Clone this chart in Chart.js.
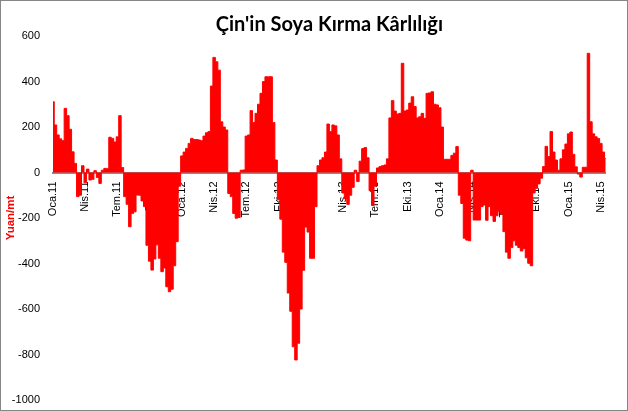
<!DOCTYPE html>
<html>
<head>
<meta charset="utf-8">
<script src="https://cdn.jsdelivr.net/npm/chart.js@4.4.1/dist/chart.umd.min.js"></script>
<style>
    html, body { margin: 0; padding: 0; background: #ffffff; }
    canvas { display: block; }
</style>
</head>
<body>
<canvas id="marginChart" width="628" height="411"></canvas>
<script>
// Quarter tick labels (one every 13 weeks)
const quarterLabels = ['Oca.11', 'Nis.11', 'Tem.11', 'Eki.11', 'Oca.12', 'Nis.12', 'Tem.12', 'Eki.12',
    'Oca.13', 'Nis.13', 'Tem.13', 'Eki.13', 'Oca.14', 'Nis.14', 'Tem.14', 'Eki.14', 'Oca.15', 'Nis.15'];
const weeksPerQuarter = 13;

// Weekly crush margin, Yuan/mt
const margin2011 = [311, 209, 165, 148, 140, 282, 250, 190, 91, 40, -106, -100, 30, -45, 15, -33, -30, 8, -22, -48,
    10, 18, 18, 155, 150, 134, 157, 250, 22, -106, -140, -238, -180, -173, -99, -100, -125, -150, -320, -390,
    -429, -380, -318, -377, -436, -420, -502, -524, -513, -410, -304, -60];
const margin2012 = [73, 90, 106, 128, 150, 145, 145, 143, 140, 160, 175, 180, 380, 506, 487, 450, 223, 200, 187, -92,
    -106, -180, -201, -198, 10, 11, 160, 165, 272, 220, 260, 300, 348, 400, 421, 421, 421, 220, 55, -120,
    -205, -350, -395, -530, -610, -766, -824, -751, -600, -430, -240, -262];
const margin2013 = [-377, -377, -150, 30, 55, 65, 90, 213, 180, 209, 205, 165, 60, -90, -115, -140, -100, -65, 10, -40,
    50, 105, 110, 65, -80, -145, -60, 20, 26, 30, 33, 60, 240, 316, 270, 257, 260, 480, 270, 275,
    305, 333, 290, 240, 245, 260, 238, 348, 350, 355, 300, 297];
const margin2014 = [285, 200, 58, 58, 58, 75, 85, 114, -100, -136, -289, -297, -300, 10, -209, -209, -209, -150, -143, -210,
    -150, -190, -215, -190, -170, -182, -260, -350, -377, -330, -300, -320, -330, -345, -335, -375, -399, -410, -90, -70,
    -50, -25, 26, 115, 70, 180, 90, 55, 10, 60, 100, 125];
const margin2015 = [170, 178, 80, 25, -7, -20, 23, 23, 524, 223, 170, 157, 150, 128, 90, 62];

const yMin = -1000;
const yMax = 600;
const yStep = 200;

const margins = [...margin2011, ...margin2012, ...margin2013, ...margin2014, ...margin2015];
const weekLabels = margins.map((v, i) => i % weeksPerQuarter === 0 ? (quarterLabels[i / weeksPerQuarter] || '') : '');

// White background and thin grey frame like the spreadsheet chart area
const chartFrame = {
    id: 'chartFrame',
    beforeDraw(chart) {
        const ctx = chart.ctx;
        ctx.save();
        ctx.fillStyle = '#ffffff';
        ctx.fillRect(0, 0, chart.width, chart.height);
        ctx.restore();
    },
    afterDraw(chart) {
        const ctx = chart.ctx;
        ctx.save();
        ctx.strokeStyle = '#868686';
        ctx.lineWidth = 1;
        ctx.strokeRect(0.5, 0.5, chart.width - 1, chart.height - 1);
        ctx.restore();
    }
};

const tickFont = { family: "'Liberation Sans', Arial, sans-serif", size: 11 };

const ctx = document.getElementById('marginChart').getContext('2d');
new Chart(ctx, {
    type: 'line',
    data: {
        labels: weekLabels,
        datasets: [{
            label: 'Kârlılık',
            data: margins,
            stepped: 'middle',
            fill: 'origin',
            backgroundColor: '#ff0000',
            borderColor: '#ff0000',
            borderWidth: 1,
            pointRadius: 0,
            pointHoverRadius: 0
        }]
    },
    options: {
        responsive: false,
        animation: false,
        layout: {
            padding: { left: 0, right: 22, top: 0, bottom: 11 }
        },
        plugins: {
            legend: { display: false },
            tooltip: { enabled: false },
            title: {
                display: true,
                fullSize: false,
                text: "Çin'in Soya Kırma Kârlılığı",
                color: '#000000',
                font: { family: "'Lato', sans-serif", size: 20, weight: 'bold', lineHeight: 1 },
                padding: { top: 15, bottom: 1 }
            }
        },
        scales: {
            x: {
                position: { y: 0 },
                z: 1,
                grid: { display: false, drawTicks: false },
                border: { display: true, color: '#8c8c8c', width: 2 },
                ticks: {
                    autoSkip: false,
                    minRotation: 90,
                    maxRotation: 90,
                    padding: 9,
                    color: '#000000',
                    font: tickFont
                }
            },
            y: {
                min: yMin,
                max: yMax,
                grid: { display: false, drawTicks: true, tickLength: 10 },
                border: { display: false },
                ticks: {
                    stepSize: yStep,
                    padding: 3,
                    color: '#000000',
                    font: tickFont,
                    callback: (v) => String(v)
                },
                title: {
                    display: true,
                    text: 'Yuan/mt',
                    color: '#ff0000',
                    font: { family: "'Liberation Sans', Arial, sans-serif", size: 11.5, weight: 'bold' },
                    padding: { top: 4, bottom: 0 }
                },
                afterFit: (scale) => { scale.width = 53; }
            }
        }
    },
    plugins: [chartFrame]
});
</script>
</body>
</html>
